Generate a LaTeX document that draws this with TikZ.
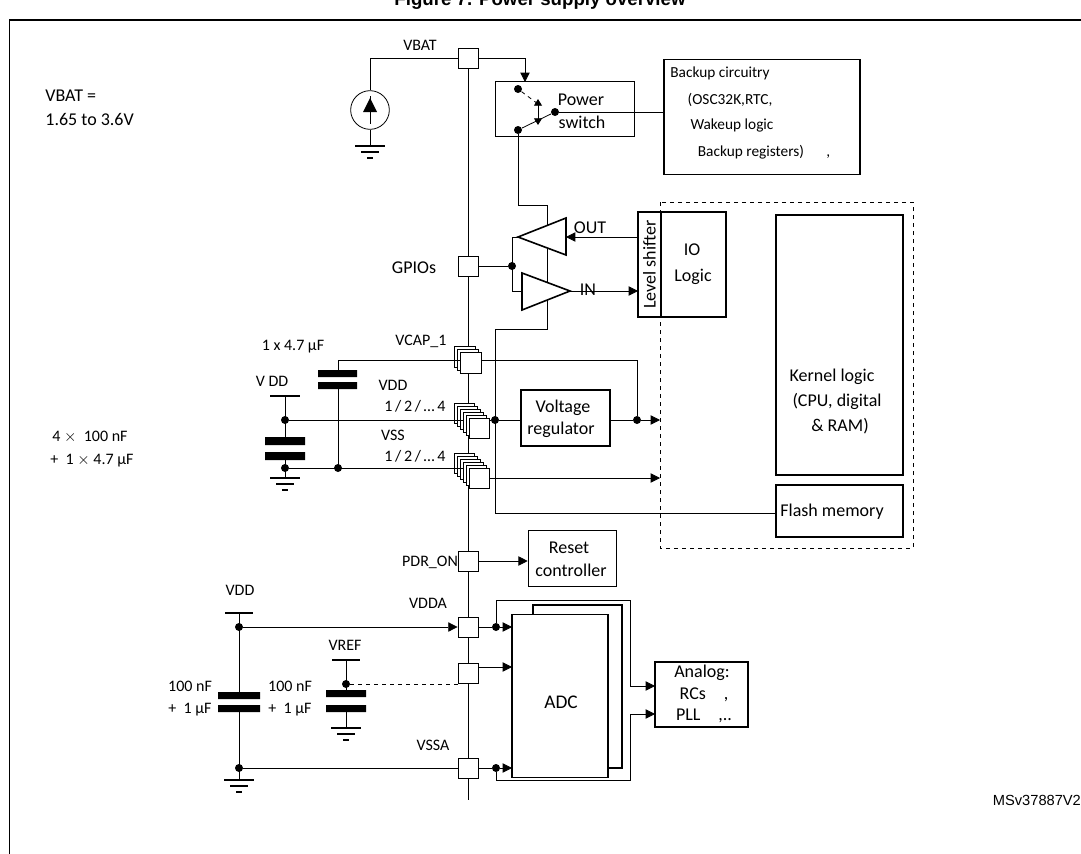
\documentclass[tikz,border=0pt]{standalone}
\usepackage{fontspec}
\setmainfont{Carlito}
\newfontfamily\arialf{Liberation Sans}
\usetikzlibrary{arrows.meta}
\begin{document}
\begin{tikzpicture}[x=0.75pt,y=-0.75pt,line width=0.6pt,
  lbl/.style={inner sep=0pt,font=\fontsize{12}{14}\selectfont},
  sml/.style={inner sep=0pt,font=\fontsize{11.5}{13}\selectfont},
  big/.style={inner sep=0pt,font=\fontsize{13.5}{16}\selectfont},
  box/.style={draw,line width=1.2pt},
  pad/.style={draw,fill=white,minimum width=15pt,minimum height=15pt,inner sep=0pt,line width=0.6pt},
  dot/.style={circle,fill,inner sep=0pt,minimum size=6pt},
  arr/.style={-{Triangle[length=7pt,width=7pt]}}]
\useasboundingbox (0,0) rectangle (1081,853);
\node[font=\arialf\bfseries\fontsize{14}{16}\selectfont] (title) at (540,1) {Figure 7. Power supply overview};
\draw[line width=1.5pt] (9,20) -- (1090,20);
\draw (9,20) -- (9,860);
\node[font=\arialf\fontsize{11}{13}\selectfont,anchor=west] (ms) at (988,800) {MSv37887V2};
% bus
\coordinate (bt) at (468,58); \coordinate (bb) at (468,800);
\draw (bt) -- (bb);
% VBAT
\node[pad] (vbat) at (468,58) {};
\node[lbl] (lvbat) at (420,45) {VBAT};
\node[big,anchor=west] (t1) at (45,96) {VBAT =};
\node[big,anchor=west] (t2) at (45,119) {1.65 to 3.6V};
\node[draw,circle,minimum size=29pt,inner sep=0pt] (src) at (370,110) {};
\fill (370,98) -- (363,112) -- (377,112) -- cycle;
\draw (370,96) -- (370,124);
\draw (vbat.west) -- (370,58) -- (src.north);
\draw (src.south) -- (370,146);
\draw[line width=1.5pt] (355,146)--(385,146) (361,152)--(379,152) (367,158)--(373,158);
% power switch
\node[box,minimum width=104pt,minimum height=41pt] (ps) at (565,109) {};
\node[big] at (581,100) {Power};
\node[big] at (582,122) {switch};
\draw[arr] (vbat.east) -- (525,58) -- (525,82);
\node[dot] (d1) at (518,89) {};
\node[dot] (d2) at (518,130) {};
\node[dot] (d3) at (555,112) {};
\draw[dashed] (d1) -- (538,104);
\draw (d2) -- (d3);
\draw[{Triangle[length=5pt,width=6pt]}-{Triangle[length=5pt,width=6pt]}] (538,99) -- (538,125);
\node[box,minimum width=147pt,minimum height=86pt] (bk) at (762,117) {};
\node[sml] at (720,73) {Backup circuitry};
\node[sml] at (730,100) {(OSC32K,RTC,};
\node[sml] at (732,125) {Wakeup logic};
\node[sml] at (764,152) {Backup registers)\quad\ \ ,};
\draw (d3) -- (bk.west |- d3);
% supply line to IO
\draw (d2) -- (518,205) -- (547,205) -- (547,329) -- (495,329) -- (495,513) -- (776,513);
% GPIO
\node[pad] (gpio) at (468,266) {};
\node[big] at (414,268) {GPIOs};
\node[dot] (gd) at (512,266) {};
\draw (gpio.east) -- (gd);
\draw[fill=white,line width=1.2pt] (518,237) -- (566,218) -- (566,255) -- cycle;
\draw[fill=white,line width=1.2pt] (570,291) -- (522,273) -- (522,310) -- cycle;
\draw (518,237) -- (512,237) -- (512,291) -- (522,291);
\node[box,minimum width=17pt,minimum height=79pt] (ls) at (649.5,264.5) {};
\node[big,rotate=90] at (649.5,264.5) {Level shifter};
\node[box,minimum width=49pt,minimum height=79pt] (io) at (693.5,264.5) {};
\node[big] at (692,250) {IO};
\node[big] at (693,277) {Logic};
\draw[arr] (638,237) -- (566,237);
\draw[arr] (570,291) -- (638,291);
\node[big] at (590,228) {OUT};
\node[big] at (588,290) {IN};
% dashed domain
\draw[dashed] (660,202) rectangle (913,548);
\node[box,minimum width=95pt,minimum height=195pt] (kl) at (839.5,345) {};
\node[big] at (832,377) {Kernel logic};
\node[big] at (837,401) {(CPU, digital};
\node[big] at (840,426) {\& RAM)};
\node[box,minimum width=95pt,minimum height=39pt] (fl) at (839.5,511) {};
\node[big,anchor=west] at (780,512) {Flash memory};
% VCAP
\foreach \i in {1,0} \node[pad,minimum width=16pt,minimum height=16pt] at (468-3*\i,360-3*\i) {};
\node[pad,minimum width=16pt,minimum height=16pt] (vcap) at (471,363) {};
\node[lbl] at (421,341) {VCAP\_1};
% VDD / VSS stacks
\foreach \i in {5,4,3,2,1} \node[pad,minimum width=15pt,minimum height=15pt] at (479-3*\i,428-3*\i) {};
\node[pad,minimum width=15pt,minimum height=15pt] (vdd) at (479,428) {};
\foreach \i in {5,4,3,2,1} \node[pad,minimum width=15pt,minimum height=15pt] at (479-3*\i,478-3*\i) {};
\node[pad,minimum width=15pt,minimum height=15pt] (vss) at (479,478) {};
\node[lbl] at (393,385) {VDD};
\node[lbl] at (415,406) {1\,/\,2\,/\,\ldots\,4};
\node[lbl] at (393,435) {VSS};
\node[lbl] at (415,456) {1\,/\,2\,/\,\ldots\,4};
\node[dot] (vd) at (495,420) {};
\node[box,minimum width=67pt,minimum height=42pt] (vr) at (565.5,418) {};
\node[big] at (563,408) {Voltage};
\node[big] at (561,430) {regulator};
\node[dot] (rd) at (637,420) {};
\draw (vdd.east |- vd) -- (vd) -- (vr.west |- vd);
\draw (vr.east |- rd) -- (rd);
\draw[arr] (rd) -- (660,420);
\draw (vcap.east |- 0,360) -- (637,360) -- (rd);
\draw[arr] (vss.east) -- (660,478);
% left caps
\node[lbl] at (293,347) {1 x 4.7 µF};
\fill (318,370) rectangle (357,377) (318,382) rectangle (357,389);
\coordinate (c1t) at (338,360);
\draw (c1t) -- (vcap.west |- c1t);
\draw (c1t) -- (338,370) (338,389) -- (338,468);
\node[dot] (c1d) at (338,468) {};
\node[lbl] at (272,381) {V DD};
\draw[line width=1.5pt] (270,396) -- (300,396);
\node[dot] (vdd1) at (285,420) {};
\node[dot] (vss1) at (285,468) {};
\draw (285,396) -- (285,437) (285,460) -- (285,478);
\fill (265,437) rectangle (305,445) (265,452) rectangle (305,460);
\draw[line width=1.5pt] (270,478)--(300,478) (276,484)--(294,484) (282,490)--(288,490);
\draw (vdd1) -- (463,420);
\draw (vss1) -- (463,468);
\node[lbl] at (90,437) {4 $\times$\ \ 100 nF};
\node[lbl] at (92,461) {+\ \ 1 $\times$ 4.7 µF};
% PDR_ON
\node[pad] (pdr) at (468,561) {};
\node[lbl] at (430,562) {PDR\_ON};
\node[box,minimum width=66pt,minimum height=42pt] (rst) at (572.5,558.5) {};
\node[big] at (569,548) {Reset};
\node[big] at (571,570) {controller};
\draw[arr] (pdr.east) -- (rst.west |- pdr);
% analog
\node[pad] (vdda) at (468,627) {};
\node[pad] (vref) at (468,673) {};
\node[pad] (vssa) at (468,768) {};
\node[lbl] at (428,603) {VDDA};
\node[lbl] at (433,745) {VSSA};
\node[box,minimum width=67pt,minimum height=122pt] (adc2) at (577.5,686.5) {};
\node[box,fill=white,minimum width=72pt,minimum height=122pt] (adc) at (560,696) {};
\node[inner sep=0pt,font=\fontsize{14.5}{16}\selectfont] at (561,702) {ADC};
\node[box,minimum width=70pt,minimum height=49pt] (an) at (701.5,694.5) {};
\node[big] at (702,673) {Analog:};
\node[big] at (704,695) {RCs\quad ,};
\node[big] at (704,716) {PLL\quad ,..};
\node[dot] (ad1) at (496,627) {};
\node[dot] (ad2) at (496,768) {};
\draw (vdda.east) -- (ad1);
\draw[arr] (ad1) -- (512,627);
\draw (vssa.east) -- (ad2);
\draw[arr] (ad2) -- (512,768);
\draw[arr] (vref.east |- 0,667) -- (512,667);
\draw (ad1) -- (496,600) -- (630,600) -- (630,686);
\draw[arr] (630,686) -- (655,686);
\draw (ad2) -- (496,780) -- (630,780) -- (630,714);
\draw[arr] (630,714) -- (655,714);
\node[lbl] at (240,590) {VDD};
\draw[line width=1.5pt] (225,613) -- (253,613);
\node[dot] (av) at (239,627) {};
\node[dot] (ag) at (239,768) {};
\draw (239,613) -- (239,692) (239,712) -- (239,780);
\fill (218,692) rectangle (260,699) (218,705) rectangle (260,712);
\draw[line width=1.5pt] (224,780)--(254,780) (230,786)--(248,786) (236,792)--(242,792);
\draw[arr] (av) -- (vdda.west);
\draw (ag) -- (vssa.west);
\node[lbl] at (190,686) {100 nF};
\node[lbl] at (190,710) {+\ \ 1 µF};
\node[lbl] at (290,686) {100 nF};
\node[lbl] at (290,710) {+\ \ 1 µF};
\node[lbl] at (345,645) {VREF};
\draw[line width=1.5pt] (332,660) -- (360,660);
\node[dot] (rv) at (346,684) {};
\draw (346,660) -- (346,690) (346,712) -- (346,728);
\fill (326,690) rectangle (366,697) (326,705) rectangle (366,712);
\draw[line width=1.5pt] (331,728)--(361,728) (337,734)--(355,734) (343,740)--(349,740);
\draw[dashed] (rv) -- (vref.west |- rv);
\end{tikzpicture}
\end{document}
